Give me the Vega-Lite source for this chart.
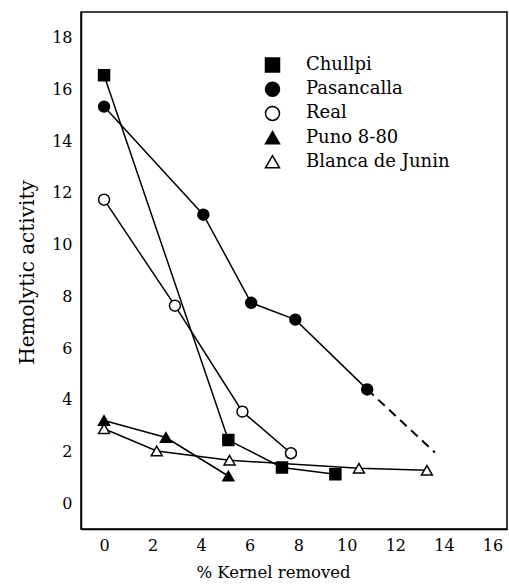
{
  "$schema": "https://vega.github.io/schema/vega-lite/v6.json",
  "width": 426,
  "height": 517,
  "autosize": {"type": "none"},
  "padding": {"left": 81, "top": 12, "right": 2, "bottom": 58},
  "background": "white",
  "config": {"view": {"stroke": "black", "strokeWidth": 1.5}, "font": "DejaVu Serif"},
  "data": {"values": [
    {"series": "Chullpi", "x": 0, "y": 16.55, "kind": "point"},
    {"series": "Chullpi", "x": 5.12, "y": 2.44, "kind": "point"},
    {"series": "Chullpi", "x": 7.33, "y": 1.38, "kind": "point"},
    {"series": "Chullpi", "x": 9.53, "y": 1.12, "kind": "point"},
    {"series": "Pasancalla", "x": 0, "y": 15.34, "kind": "point"},
    {"series": "Pasancalla", "x": 4.09, "y": 11.16, "kind": "point"},
    {"series": "Pasancalla", "x": 6.06, "y": 7.75, "kind": "point"},
    {"series": "Pasancalla", "x": 7.88, "y": 7.1, "kind": "point"},
    {"series": "Pasancalla", "x": 10.84, "y": 4.4, "kind": "point"},
    {"series": "Pasancalla", "x": 13.63, "y": 1.96, "kind": "end"},
    {"series": "Real", "x": 0, "y": 11.74, "kind": "point"},
    {"series": "Real", "x": 2.92, "y": 7.64, "kind": "point"},
    {"series": "Real", "x": 5.7, "y": 3.54, "kind": "point"},
    {"series": "Real", "x": 7.7, "y": 1.93, "kind": "point"},
    {"series": "Puno 8-80", "x": 0, "y": 3.2, "kind": "point"},
    {"series": "Puno 8-80", "x": 2.55, "y": 2.54, "kind": "point"},
    {"series": "Puno 8-80", "x": 5.12, "y": 1.05, "kind": "point"},
    {"series": "Blanca de Junin", "x": 0, "y": 2.88, "kind": "point"},
    {"series": "Blanca de Junin", "x": 2.17, "y": 2.02, "kind": "point"},
    {"series": "Blanca de Junin", "x": 5.17, "y": 1.66, "kind": "point"},
    {"series": "Blanca de Junin", "x": 10.5, "y": 1.35, "kind": "point"},
    {"series": "Blanca de Junin", "x": 13.3, "y": 1.27, "kind": "point"}
  ]},
  "encoding": {
    "x": {
      "field": "x", "type": "quantitative",
      "scale": {"domain": [-0.95, 16.6], "nice": false, "zero": false},
      "axis": {
        "values": [0,1,2,3,4,5,6,7,8,9,10,11,12,13,14,15,16],
        "labelExpr": "datum.value % 2 === 0 ? datum.label : ''",
        "title": "% Kernel removed",
        "grid": false,
        "domainColor": "black", "domainWidth": 1.5,
        "tickColor": "black", "tickWidth": 1.5, "tickSize": 0,
        "labelPadding": 8, "labelFont": "DejaVu Serif", "labelFontSize": 16, "labelColor": "black",
        "labelFlush": false, "labelOverlap": false,
        "titleFont": "DejaVu Serif", "titleFontSize": 16.5, "titleFontWeight": "normal", "titleColor": "black",
        "titleX": 192, "titleY": 48, "titleBaseline": "alphabetic", "titleAlign": "center",
        "encode": {"ticks": {"update": {"y2": {"signal": "datum.value % 2 === 0 ? -10 : -5"}}}}
      }
    },
    "y": {
      "field": "y", "type": "quantitative",
      "scale": {"domain": [-1, 19], "nice": false, "zero": false},
      "axis": {
        "values": [0,1,2,3,4,5,6,7,8,9,10,11,12,13,14,15,16,17,18],
        "labelExpr": "datum.value % 2 === 0 ? datum.label : ''",
        "title": "Hemolytic activity",
        "grid": false,
        "domainColor": "black", "domainWidth": 1.5,
        "tickColor": "black", "tickWidth": 1.5, "tickSize": 0,
        "labelPadding": 9, "labelFont": "DejaVu Serif", "labelFontSize": 16, "labelColor": "black",
        "labelFlush": false, "labelOverlap": false,
        "titleFont": "DejaVu Serif", "titleFontSize": 20, "titleFontWeight": "normal", "titleColor": "black",
        "titleX": -48, "titleY": 260, "titleAngle": -90, "titleBaseline": "alphabetic", "titleAlign": "center",
        "encode": {"ticks": {"update": {"x2": {"signal": "datum.value % 2 === 0 ? 10 : 5"}}}}
      }
    }
  },
  "layer": [
    {
      "transform": [{"filter": "datum.kind === 'point'"}],
      "mark": {"type": "line", "color": "black", "strokeWidth": 1.5},
      "encoding": {"detail": {"field": "series"}}
    },
    {
      "transform": [{"filter": "datum.series === 'Pasancalla' && datum.x >= 10.8"}],
      "mark": {"type": "line", "color": "black", "strokeWidth": 2, "strokeDash": [9, 6]},
      "encoding": {"detail": {"field": "series"}}
    },
    {
      "transform": [{"filter": "datum.kind === 'point'"}],
      "mark": {"type": "point", "size": 120, "strokeWidth": 1.5, "opacity": 1, "fillOpacity": 1, "strokeOpacity": 1},
      "encoding": {
        "shape": {
          "field": "series", "type": "nominal",
          "scale": {"domain": ["Chullpi", "Pasancalla", "Real", "Puno 8-80", "Blanca de Junin"], "range": ["square", "circle", "circle", "triangle-up", "triangle-up"]},
          "legend": {
            "title": null, "orient": "none", "legendX": 182.5, "legendY": 44, "padding": 0,
            "symbolSize": 196, "symbolStrokeWidth": 1.5,
            "labelFont": "DejaVu Serif", "labelFontSize": 18, "labelColor": "black",
            "labelOffset": 24.5, "rowPadding": 4.2, "labelLimit": 300
          }
        },
        "fill": {
          "field": "series", "type": "nominal",
          "scale": {"domain": ["Chullpi", "Pasancalla", "Real", "Puno 8-80", "Blanca de Junin"], "range": ["black", "black", "white", "black", "white"]},
          "legend": null
        },
        "stroke": {
          "field": "series", "type": "nominal",
          "scale": {"domain": ["Chullpi", "Pasancalla", "Real", "Puno 8-80", "Blanca de Junin"], "range": ["black", "black", "black", "black", "black"]},
          "legend": null
        }
      }
    }
  ]
}
